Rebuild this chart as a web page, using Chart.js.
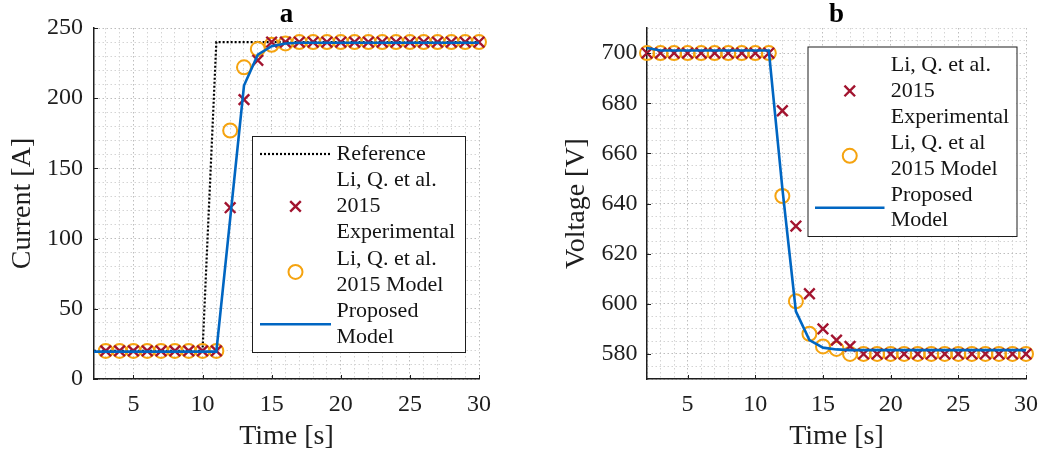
<!DOCTYPE html>
<html><head><meta charset="utf-8">
<script src="https://cdn.jsdelivr.net/npm/chart.js@4/dist/chart.umd.min.js"></script>
<style>
html,body{margin:0;padding:0;background:#fff;}
#wrap{position:relative;width:1053px;height:460px;overflow:hidden;}
#ca{position:absolute;left:0;top:0;}
#cb{position:absolute;left:520px;top:0;}
</style></head><body>
<div id="wrap">
<canvas id="ca" width="520" height="460"></canvas>
<canvas id="cb" width="533" height="460"></canvas>
</div>
<script>
// ---------- texts ----------
const titleA = 'a';
const titleB = 'b';
const xTitle = 'Time [s]';
const yTitleA = 'Current [A]';
const yTitleB = 'Voltage [V]';
const legendTextA = [['Reference'], ['Li, Q. et al.', '2015', 'Experimental'], ['Li, Q. et al.', '2015 Model'], ['Proposed', 'Model']];
const legendTextB = [['Li, Q. et al.', '2015', 'Experimental'], ['Li, Q. et al', '2015 Model'], ['Proposed', 'Model']];

// ---------- tick labels / grid ----------
const xTickLabels = [5, 10, 15, 20, 25, 30];
const yTickLabelsA = [0, 50, 100, 150, 200, 250];
const yTickLabelsB = [580, 600, 620, 640, 660, 680, 700];
const xGridA = [3,4,5,6,7,8,9,10,11,12,13,14,15,16,17,18,19,20,21,22,23,24,25,26,27,28,29,30];
const xGridB = [2,3,4,5,6,7,8,9,10,11,12,13,14,15,16,17,18,19,20,21,22,23,24,25,26,27,28,29,30];
const yGridA = [0,10,20,30,40,50,60,70,80,90,100,110,120,130,140,150,160,170,180,190,200,210,220,230,240,250];
const yGridB = [570,575,580,585,590,595,600,605,610,615,620,625,630,635,640,645,650,655,660,665,670,675,680,685,690,695,700,705,710];

// ---------- chart a : current ----------
const tRefA   = [2.15, 10, 11, 30];
const refA    = [20, 20, 240, 240];
const tMarkA  = [3,4,5,6,7,8,9,10,11,12,13,14,15,16,17,18,19,20,21,22,23,24,25,26,27,28,29,30];
const expA    = [20,20,20,20,20,20,20,20,20,122,199,227,240,240,240,240,240,240,240,240,240,240,240,240,240,240,240,240];
const modelA  = [20,20,20,20,20,20,20,20,20,177,222,235,238,239,240,240,240,240,240,240,240,240,240,240,240,240,240,240];
const tPropA  = [2.15,3,4,5,6,7,8,9,10,11,12,13,14,15,16,17,18,19,20,21,22,23,24,25,26,27,28,29,30];
const propA   = [19.5,19.5,19.5,19.5,19.5,19.5,19.5,19.5,19.5,19.5,114,209,231,237,239,239.5,239.5,239.5,239.5,239.5,239.5,239.5,239.5,239.5,239.5,239.5,239.5,239.5,239.5];

// ---------- chart b : voltage ----------
const tB      = [2,3,4,5,6,7,8,9,10,11,12,13,14,15,16,17,18,19,20,21,22,23,24,25,26,27,28,29,30];
const expB    = [700,700,700,700,700,700,700,700,700,700,677,631,604,590,585.5,583,580,580,580,580,580,580,580,580,580,580,580,580,580];
const modelB  = [700,700,700,700,700,700,700,700,700,700,643,601,588,583,582,580,580,580,580,580,580,580,580,580,580,580,580,580,580];
const propB   = [702,701,701,701,701,701,701,701,701,701,646,597,585.5,582.5,581.8,581.5,581.5,581.5,581.5,581.5,581.5,581.5,581.5,581.5,581.5,581.5,581.5,581.5,581.5];

// ---------- styling ----------
const FONT = "'Liberation Serif','Times New Roman',serif";
const BLUE = '#0066c2', RED = '#a2142f', ORANGE = '#f5a30f', INK = '#1e1e1e';
const pts = (xs, ys) => xs.map((x, i) => ({x, y: ys[i]}));

function lineDs(label, xs, ys, color, width, dash) {
  return {label, data: pts(xs, ys), showLine: true, borderColor: color, borderWidth: width,
    borderDash: dash || [], pointRadius: 0, fill: false, tension: 0, clip: false};
}
function markDs(label, xs, ys, style, color, radius, bw) {
  return {label, data: pts(xs, ys), showLine: false, pointStyle: style, pointRadius: radius,
    pointBorderColor: color, pointBackgroundColor: 'rgba(0,0,0,0)', pointBorderWidth: bw, clip: false};
}

const deco = {
  id: 'deco',
  afterDatasetsDraw(chart, args, o) {
    const ctx = chart.ctx, ca = chart.chartArea;
    ctx.save();
    // inward tick marks
    ctx.strokeStyle = INK; ctx.lineWidth = 1;
    const xs = chart.scales.x, ys = chart.scales.y;
    o.xLabels.forEach(v => { const px = Math.round(xs.getPixelForValue(v)) + 0.5;
      ctx.beginPath(); ctx.moveTo(px, ca.bottom); ctx.lineTo(px, ca.bottom - 4); ctx.stroke(); });
    o.yLabels.forEach(v => { const py = Math.round(ys.getPixelForValue(v)) + 0.5;
      ctx.beginPath(); ctx.moveTo(ca.left, py); ctx.lineTo(ca.left + 4, py); ctx.stroke(); });
    // title
    ctx.font = 'bold 27px ' + FONT; ctx.fillStyle = '#000'; ctx.textAlign = 'center'; ctx.textBaseline = 'alphabetic';
    ctx.fillText(o.title, (ca.left + ca.right) / 2, 22);
    // legend
    const L = o.legend;
    ctx.fillStyle = '#fff'; ctx.fillRect(L.x, L.y, L.w, L.h);
    ctx.strokeStyle = INK; ctx.lineWidth = 1; ctx.strokeRect(L.x + 0.5, L.y + 0.5, L.w, L.h);
    let row = 0;
    o.items.forEach(it => {
      const n = it.text.length;
      const cy = L.row0 + (row + (n - 1) / 2) * L.rowH;
      const ds = chart.data.datasets[it.ds];
      ctx.save();
      if (ds.showLine) {
        ctx.strokeStyle = ds.borderColor; ctx.lineWidth = ds.borderWidth; ctx.setLineDash(ds.borderDash || []);
        ctx.beginPath(); ctx.moveTo(L.s0, cy); ctx.lineTo(L.s1, cy); ctx.stroke();
      } else {
        ctx.strokeStyle = ds.pointBorderColor; ctx.fillStyle = 'rgba(0,0,0,0)'; ctx.lineWidth = ds.pointBorderWidth;
        Chart.helpers.drawPoint(ctx, {pointStyle: ds.pointStyle, radius: ds.pointRadius, rotation: 0, borderWidth: ds.pointBorderWidth}, (L.s0 + L.s1) / 2, cy);
      }
      ctx.restore();
      ctx.font = '22px ' + FONT; ctx.fillStyle = '#141414'; ctx.textAlign = 'left'; ctx.textBaseline = 'middle';
      it.text.forEach((t, i) => ctx.fillText(t, L.textX, L.row0 + (row + i) * L.rowH));
      row += n;
    });
    ctx.restore();
  }
};

function scales(c) {
  const gridColor = labels => g => labels.includes(g.tick && g.tick.value) ? '#bdbdbd' : '#d4d4d4';
  return {
    x: {
      type: 'linear', min: c.xMin, max: c.xMax,
      afterBuildTicks: s => { s.ticks = c.xGrid.map(v => ({value: v})); },
      afterFit: s => { s.height = 81; },
      ticks: {autoSkip: false, maxRotation: 0, padding: 11.6, color: INK, font: {family: FONT, size: 24},
        callback: v => xTickLabels.includes(v) ? String(v) : ''},
      grid: {drawTicks: false, color: gridColor(xTickLabels), lineWidth: 1},
      border: {display: true, color: INK, width: 1.5, dash: [1.5, 2.5]},
      title: {display: true, text: xTitle, color: INK, font: {family: FONT, size: 28}, padding: {top: 0, bottom: 6.2}}
    },
    y: {
      type: 'linear', min: c.yMin, max: c.yMax,
      afterBuildTicks: s => { s.ticks = c.yGrid.map(v => ({value: v})); },
      afterFit: s => { s.width = c.yWidth; },
      ticks: {autoSkip: false, padding: c.yTickPad, color: INK, font: {family: FONT, size: 24},
        callback: v => c.yLabels.includes(v) ? String(v) : ''},
      grid: {drawTicks: false, color: gridColor(c.yLabels), lineWidth: 1},
      border: {display: true, color: INK, width: 1.5, dash: [1.5, 2.5]},
      title: {display: true, text: c.yTitle, color: INK, font: {family: FONT, size: 28}, padding: {top: c.yTitlePad, bottom: 0}}
    }
  };
}

const common = {responsive: false, animation: false, events: [],
  plugins: {legend: {display: false}, tooltip: {enabled: false}}};

new Chart(document.getElementById('ca'), {
  type: 'scatter',
  data: {datasets: [
    lineDs('Proposed Model', tPropA, propA, BLUE, 2.6),
    markDs('Li, Q. et al. 2015 Experimental', tMarkA, expA, 'crossRot', RED, 7.5, 2.4),
    markDs('Li, Q. et al. 2015 Model', tMarkA, modelA, 'circle', ORANGE, 7, 2),
    lineDs('Reference', tRefA, refA, '#000', 2.2, [2, 2])
  ]},
  options: Object.assign({}, common, {
    layout: {padding: {top: 28, right: 41, bottom: 0, left: 0}},
    scales: scales({xMin: 2.15, xMax: 30, yMin: 0, yMax: 250, xGrid: xGridA, yGrid: yGridA,
      yLabels: yTickLabelsA, yTitle: yTitleA, yWidth: 94, yTickPad: 11, yTitlePad: 6.2}),
    plugins: Object.assign({}, common.plugins, {deco: {
      title: titleA, xLabels: xTickLabels, yLabels: yTickLabelsA,
      legend: {x: 252, y: 136, w: 213, h: 216, row0: 154, rowH: 26.2, s0: 260, s1: 331, textX: 336.5},
      items: [{ds: 3, text: legendTextA[0]}, {ds: 1, text: legendTextA[1]}, {ds: 2, text: legendTextA[2]}, {ds: 0, text: legendTextA[3]}]
    }})
  }),
  plugins: [deco]
});

new Chart(document.getElementById('cb'), {
  type: 'scatter',
  data: {datasets: [
    lineDs('Proposed Model', tB, propB, BLUE, 2.6),
    markDs('Li, Q. et al. 2015 Experimental', tB, expB, 'crossRot', RED, 7.5, 2.4),
    markDs('Li, Q. et al 2015 Model', tB, modelB, 'circle', ORANGE, 7, 2)
  ]},
  options: Object.assign({}, common, {
    layout: {padding: {top: 28, right: 27, bottom: 0, left: 0}},
    scales: scales({xMin: 2, xMax: 30, yMin: 570, yMax: 710, xGrid: xGridB, yGrid: yGridB,
      yLabels: yTickLabelsB, yTitle: yTitleB, yWidth: 127, yTickPad: 9.5, yTitlePad: 39.9}),
    plugins: Object.assign({}, common.plugins, {deco: {
      title: titleB, xLabels: xTickLabels, yLabels: yTickLabelsB,
      legend: {x: 287.5, y: 46.5, w: 209, h: 189.5, row0: 65, rowH: 25.95, s0: 295, s1: 364.5, textX: 370.7},
      items: [{ds: 1, text: legendTextB[0]}, {ds: 2, text: legendTextB[1]}, {ds: 0, text: legendTextB[2]}]
    }})
  }),
  plugins: [deco]
});
</script>
</body></html>
